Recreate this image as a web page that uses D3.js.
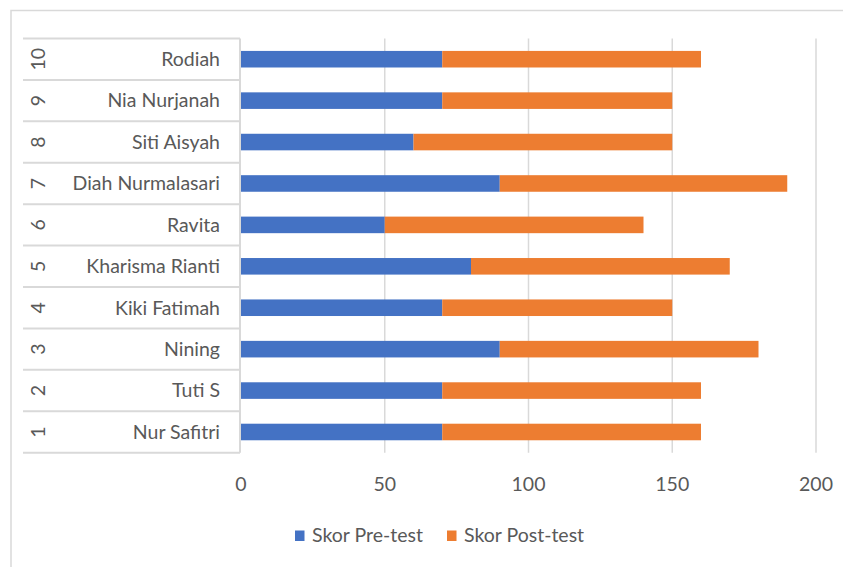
<!DOCTYPE html>
<html>
<head>
<meta charset="utf-8">
<script src="https://cdn.jsdelivr.net/npm/d3@7"></script>
<style>
  body { margin: 0; background: #fff; }
  svg text { font-family: Lato, "Open Sans", sans-serif; fill: #595959; }
</style>
</head>
<body>
<div class="container"></div>
<script>
// chart data (bottom to top as in the picture)
const numbers = ["1", "2", "3", "4", "5", "6", "7", "8", "9", "10"];
const names = ["Nur Safitri", "Tuti S", "Nining", "Kiki Fatimah", "Kharisma Rianti",
               "Ravita", "Diah Nurmalasari", "Siti Aisyah", "Nia Nurjanah", "Rodiah"];
const preTest = [70, 70, 90, 70, 80, 50, 90, 60, 70, 70];
const postTest = [90, 90, 90, 80, 90, 90, 100, 90, 80, 90];
const seriesNames = ["Skor Pre-test", "Skor Post-test"];
const colors = ["#4472c4", "#ed7d31"];
const xTicks = [0, 50, 100, 150, 200];

const width = 843, height = 567;
const plot = {left: 241, right: 816, top: 38.5, bottom: 452.7};
const fontSize = "19.5px";

const svg = d3.select(".container")
    .append("svg")
    .attr("width", width)
    .attr("height", height);

// outer frame (only top + left are in view)
svg.append("path")
    .attr("d", `M11,${height} V10.5 H${width}`)
    .attr("fill", "none")
    .attr("stroke", "#d9d9d9")
    .attr("stroke-width", 1.5);

const x = d3.scaleLinear()
    .domain([0, 200])
    .range([plot.left, plot.right]);

const y = d3.scaleBand()
    .domain(d3.range(names.length))
    .range([plot.bottom, plot.top])
    .paddingInner(0.6)
    .paddingOuter(0.3);

const rowH = (plot.bottom - plot.top) / names.length;

// gridlines
svg.append("g")
    .selectAll("line")
    .data(xTicks.slice(1))
    .enter()
    .append("line")
    .attr("x1", d => x(d))
    .attr("x2", d => x(d))
    .attr("y1", plot.top)
    .attr("y2", plot.bottom)
    .attr("stroke", "#d9d9d9")
    .attr("stroke-width", 1.5);

// x tick labels
svg.append("g")
    .selectAll("text")
    .data(xTicks)
    .enter()
    .append("text")
    .attr("x", d => x(d))
    .attr("y", 484.5)
    .attr("dy", "0.35em")
    .attr("text-anchor", "middle")
    .attr("font-size", fontSize)
    .text(d => d);

// category table lines
const table = svg.append("g");
d3.range(names.length + 1).forEach(i => {
    table.append("line")
        .attr("x1", 23)
        .attr("x2", 240)
        .attr("y1", plot.top + i * rowH)
        .attr("y2", plot.top + i * rowH)
        .attr("stroke", "#d9d9d9")
        .attr("stroke-width", 2);
});
table.append("line")
    .attr("x1", 240)
    .attr("x2", 240)
    .attr("y1", plot.top)
    .attr("y2", plot.bottom)
    .attr("stroke", "#d9d9d9")
    .attr("stroke-width", 2);

// names
svg.append("g")
    .selectAll("text")
    .data(names)
    .enter()
    .append("text")
    .attr("x", 220)
    .attr("y", (d, i) => y(i) + y.bandwidth() / 2)
    .attr("dy", "0.35em")
    .attr("text-anchor", "end")
    .attr("font-size", fontSize)
    .text(d => d);

// rotated numbers
svg.append("g")
    .selectAll("text")
    .data(numbers)
    .enter()
    .append("text")
    .attr("transform", (d, i) => `translate(38, ${y(i) + y.bandwidth() / 2}) rotate(-90)`)
    .attr("dy", "0.35em")
    .attr("text-anchor", "middle")
    .attr("font-size", fontSize)
    .text(d => d);

// stacked bars
const stackData = names.map((n, i) => ({i: i, pre: preTest[i], post: postTest[i]}));
const stacked = d3.stack().keys(["pre", "post"])(stackData);

svg.append("g")
    .selectAll("g")
    .data(stacked)
    .enter()
    .append("g")
    .attr("fill", (d, k) => colors[k])
    .selectAll("rect")
    .data(d => d)
    .enter()
    .append("rect")
    .attr("x", d => x(d[0]))
    .attr("y", d => y(d.data.i))
    .attr("width", d => x(d[1]) - x(d[0]))
    .attr("height", y.bandwidth());

// legend
const legendItems = [{x: 295, label: seriesNames[0]}, {x: 447, label: seriesNames[1]}];
const legend = svg.append("g");
legendItems.forEach((item, k) => {
    legend.append("rect")
        .attr("x", item.x)
        .attr("y", 530.5)
        .attr("width", 9.5)
        .attr("height", 10.5)
        .attr("fill", colors[k]);
    legend.append("text")
        .attr("x", item.x + 17)
        .attr("y", 535.5)
        .attr("dy", "0.35em")
        .attr("font-size", fontSize)
        .text(item.label);
});
</script>
</body>
</html>
